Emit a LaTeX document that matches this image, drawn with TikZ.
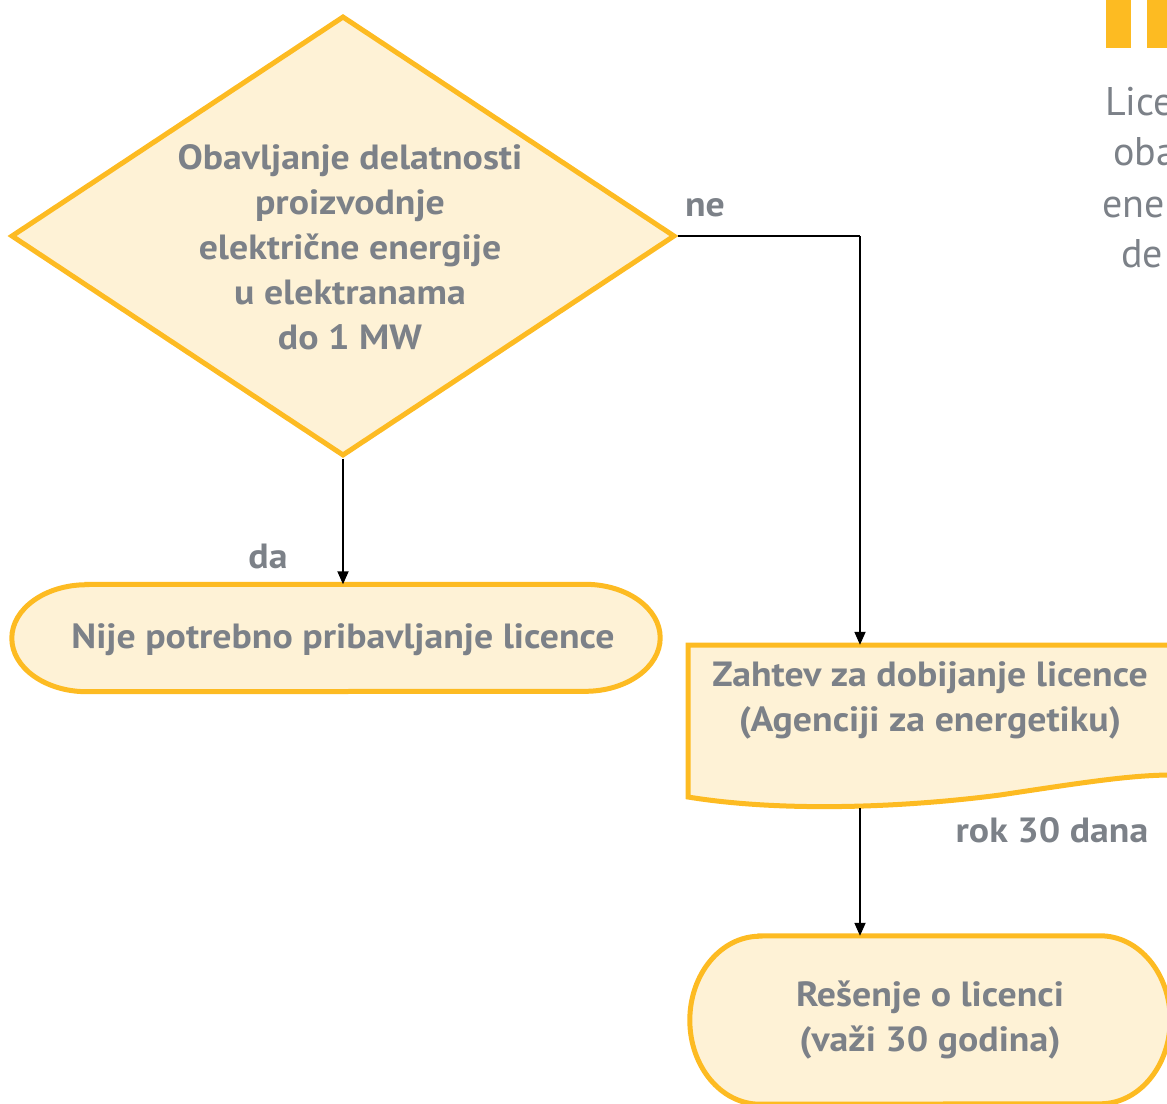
\documentclass[tikz,border=0pt]{standalone}
\usepackage{fontspec}
\setmainfont{PT Sans}
\newfontfamily\lblfont{PT Sans}[FakeStretch=1.08]
\usetikzlibrary{shapes.geometric,arrows.meta,calc}
\definecolor{ybord}{HTML}{FDBB22}
\definecolor{yfill}{HTML}{FEF2D6}
\definecolor{tgrey}{HTML}{7C8188}
\begin{document}
\begin{tikzpicture}[x=1pt,y=-1pt,
  lbl/.style={text=tgrey, font=\lblfont\fontsize{35}{45}\selectfont\bfseries, align=center, inner sep=0pt},
  side/.style={text=tgrey, font=\fontsize{40}{50}\selectfont, inner sep=0pt, anchor=base west},
  shapeline/.style={draw=ybord, line width=5pt, fill=yfill},
  conn/.style={draw=black, line width=1.8pt, -{Triangle[length=13pt,width=11pt]}},
  plain/.style={draw=black, line width=1.8pt}]
\useasboundingbox (0,0) rectangle (1167,1103);
\clip (0,0) rectangle (1167,1103);
% top right bars and text
\fill[ybord] (1106,0) rectangle (1131,48);
\fill[ybord] (1147,0) rectangle (1180,48);
\node[side] (s1) at (1105,115) {Lice};
\node[side] (s2) at (1113,165) {oba};
\node[side] (s3) at (1102,217) {ene};
\node[side] (s4) at (1121,267) {de};
% decision
\node[diamond, shapeline, minimum width=664pt, minimum height=440pt, inner sep=0pt] (dec) at (343,236) {};
\node[lbl] (dect) at (350,247) {Obavljanje delatnosti\\proizvodnje\\električne energije\\u elektranama\\do 1 MW};
% left terminal
\node[minimum width=648pt, minimum height=107pt, inner sep=0pt] (nl) at (336,638) {};
\draw[shapeline] ($(nl.north west)+(75,0)$) -- ($(nl.north east)+(-75,0)$)
  arc[start angle=-90, end angle=90, x radius=75, y radius=53.5]
  -- ($(nl.south west)+(75,0)$)
  arc[start angle=90, end angle=270, x radius=75, y radius=53.5] -- cycle;
\node[lbl] (nlt) at (343,640) {Nije potrebno pribavljanje licence};
% document
\node[minimum width=484pt, minimum height=163pt, inner sep=0pt] (doc) at (930,726.5) {};
\draw[shapeline] (688,645) -- (1172,645) -- (1172,775)
  .. controls (1130,775) and (1080,783) .. (1000,795)
  .. controls (900,808) and (780,812) .. (688,797) -- cycle;
\node[lbl] (doct) at (930,700) {Zahtev za dobijanje licence\\(Agenciji za energetiku)};
% result terminal
\node[minimum width=480pt, minimum height=168pt, inner sep=0pt] (res) at (930,1020) {};
\draw[shapeline] ($(res.north west)+(70,0)$) -- ($(res.north east)+(-70,0)$)
  arc[start angle=-90, end angle=90, x radius=70, y radius=84]
  -- ($(res.south west)+(70,0)$)
  arc[start angle=90, end angle=270, x radius=70, y radius=84] -- cycle;
\node[lbl] (rest) at (930,1020) {Rešenje o licenci\\(važi 30 godina)};
% connectors
\coordinate (bend) at (860,236);
\draw[plain] (dec.east) -- (bend);
\draw[conn] (bend) -- (bend |- doc.north);
\draw[conn] (dec.south) -- (dec.south |- nl.north);
\draw[conn] (860,808) -- (bend |- res.north);
% labels
\node[lbl] (ne) at (705,208) {ne};
\node[lbl] (da) at (268,556) {da};
\node[lbl] (rok) at (1052,830) {rok 30 dana};
\end{tikzpicture}
\end{document}
